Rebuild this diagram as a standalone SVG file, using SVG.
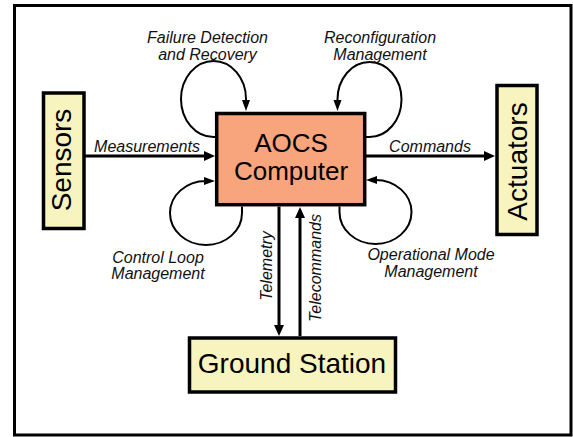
<svg xmlns="http://www.w3.org/2000/svg" width="573" height="437" viewBox="0 0 573 437">
<style>
text{font-family:"Liberation Sans",Arial,sans-serif;fill:#000}
.node{font-size:28px}
.lbl{font-size:16px;font-style:italic;fill:#111}
.box{stroke:#000;stroke-width:3.5}
.yel{fill:#F8F4BF}
.sal{fill:#F8A47D}
.big{fill:none;stroke:#000;stroke-width:3}
.loop{fill:none;stroke:#000;stroke-width:2}
</style>
<defs>
<marker id="ah" markerUnits="userSpaceOnUse" markerWidth="12" markerHeight="10" refX="5" refY="5" orient="auto"><path d="M0,0 L11,5 L0,10 z" fill="#000"/></marker>
<marker id="as" markerUnits="userSpaceOnUse" markerWidth="12" markerHeight="9" refX="5" refY="4" orient="auto"><path d="M0,0 L11,4 L0,8 z" fill="#000"/></marker>
</defs>
<rect x="14.5" y="5.5" width="556.5" height="429.5" fill="#fff" stroke="#000" stroke-width="3"/>
<g id="connectors">
<path class="big" d="M84 156 L209 156" marker-end="url(#ah)"/>
<path class="big" d="M366 156 L489 156" marker-end="url(#ah)"/>
<path class="big" d="M279 206.5 L279 330" marker-end="url(#ah)"/>
<path class="big" d="M300 336 L300 213" marker-end="url(#ah)"/>
<path class="loop" d="M216.5 137 L213.5 137 A32.5 38 0 1 1 246 99 L246 105" marker-end="url(#as)"/>
<path class="loop" d="M365 137 L369.5 137 A32 37.5 0 1 0 337.5 99.5 L337.5 105" marker-end="url(#as)"/>
<path class="loop" d="M242 206.5 L242 213 A36 32 0 1 1 206 181 L209 181" marker-end="url(#as)"/>
<path class="loop" d="M339.5 206.5 L339.5 212 A36 32 0 1 0 375.5 180 L372 180" marker-end="url(#as)"/>
<text class="lbl" x="147" y="152" text-anchor="middle">Measurements</text>
<text class="lbl" x="430" y="152" text-anchor="middle">Commands</text>
<text class="lbl" transform="translate(272 266) rotate(-90)" text-anchor="middle">Telemetry</text>
<text class="lbl" transform="translate(321 268) rotate(-90)" text-anchor="middle">Telecommands</text>
<text class="lbl" x="207.5" y="43" text-anchor="middle">Failure Detection</text>
<text class="lbl" x="207.5" y="60" text-anchor="middle">and Recovery</text>
<text class="lbl" x="380" y="43" text-anchor="middle">Reconfiguration</text>
<text class="lbl" x="380" y="60" text-anchor="middle">Management</text>
<text class="lbl" x="158" y="263" text-anchor="middle">Control Loop</text>
<text class="lbl" x="158" y="279" text-anchor="middle">Management</text>
<text class="lbl" x="431" y="260" text-anchor="middle">Operational Mode</text>
<text class="lbl" x="431" y="277" text-anchor="middle">Management</text>
</g>
<g id="sensors">
<rect class="box yel" x="43.5" y="93" width="40.5" height="135.5"/>
<text class="node" transform="translate(71 160) rotate(-90)" text-anchor="middle">Sensors</text>
</g>
<g id="aocs">
<rect class="box sal" x="216.7" y="113.5" width="148" height="91.2"/>
<text class="node" x="291" y="152" text-anchor="middle" style="font-size:26px">AOCS</text>
<text class="node" x="291" y="180" text-anchor="middle" style="font-size:26px">Computer</text>
</g>
<g id="actuators">
<rect class="box yel" x="497" y="85.5" width="40" height="149"/>
<text class="node" transform="translate(526.5 161.5) rotate(-90)" text-anchor="middle">Actuators</text>
</g>
<g id="ground">
<rect class="box yel" x="189.5" y="338" width="206" height="54"/>
<text class="node" x="292" y="373" text-anchor="middle">Ground Station</text>
</g>
</svg>
